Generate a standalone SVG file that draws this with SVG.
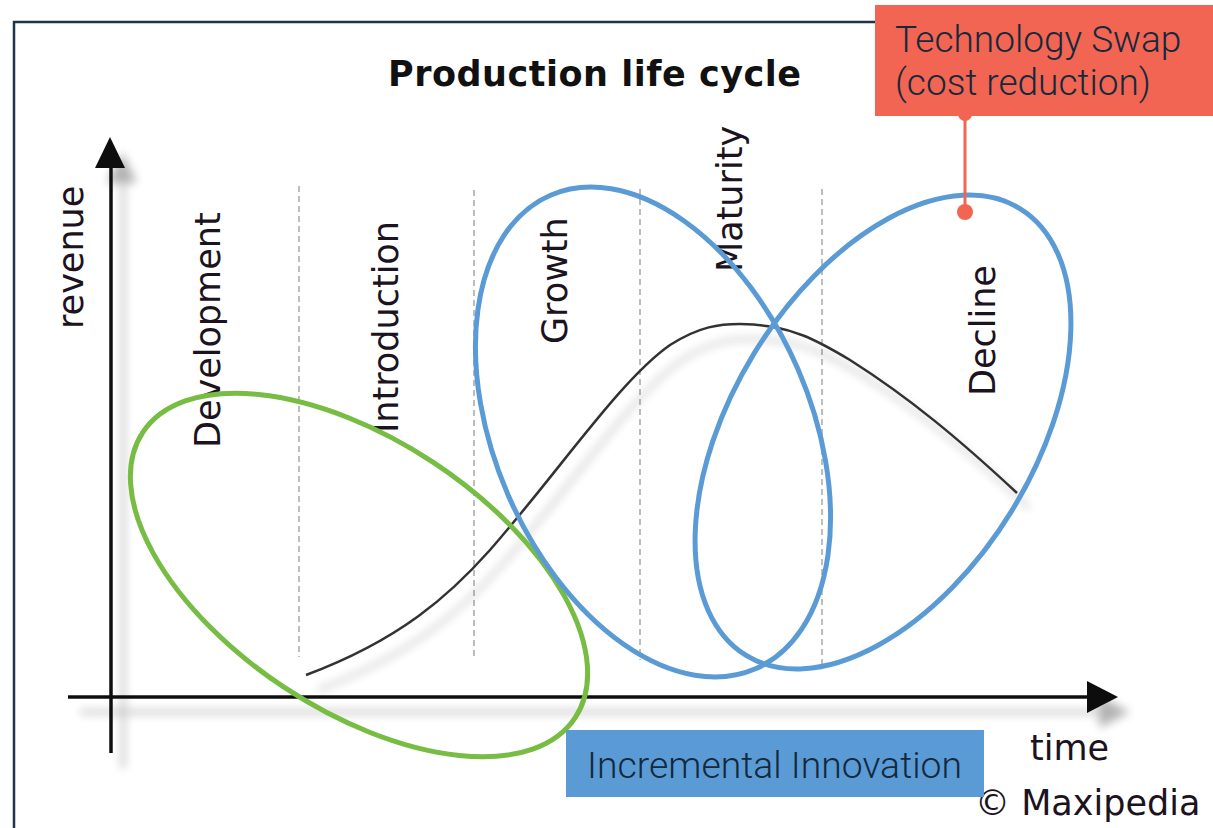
<svg xmlns="http://www.w3.org/2000/svg" width="1213" height="828" viewBox="0 0 1213 828">
<defs>
<style>
.lbl{font-family:"DejaVu Sans",Verdana,sans-serif;font-size:35px;fill:#1c1320}
.title{font-family:"DejaVu Sans",Verdana,sans-serif;font-size:35px;font-weight:bold;fill:#111}
.box{font-family:Roboto,"Liberation Sans",sans-serif;font-weight:300;fill:#13293d}
.dash{stroke:#bdbdbd;stroke-width:2;stroke-dasharray:6 4;fill:none}
.blue{fill:none;stroke:#5b9bd5;stroke-width:5}
.green{fill:none;stroke:#77bc43;stroke-width:5}
.axis{stroke:#111;stroke-width:3.5;fill:none}
</style>
<filter id="shadow" x="-20%" y="-20%" width="140%" height="140%">
<feGaussianBlur in="SourceAlpha" stdDeviation="5"/>
<feOffset dx="12" dy="15" result="b"/>
<feComponentTransfer><feFuncA type="linear" slope="0.3"/></feComponentTransfer>
<feMerge><feMergeNode/><feMergeNode in="SourceGraphic"/></feMerge>
</filter>
</defs>
<rect width="1213" height="828" fill="#fff"/>
<g id="frame">
<path d="M14,828 V22 H876" fill="none" stroke="#1e3447" stroke-width="2.5"/>
</g>
<g id="title"><text class="title" x="388" y="86" textLength="413" lengthAdjust="spacing">Production life cycle</text></g>
<g id="phases">
<line class="dash" x1="299" y1="186" x2="299" y2="657"/>
<line class="dash" x1="474" y1="190" x2="474" y2="660"/>
<line class="dash" x1="640" y1="189" x2="640" y2="660"/>
<line class="dash" x1="822" y1="189" x2="822" y2="665"/>
</g>
<g id="axes" filter="url(#shadow)">
<line class="axis" x1="111" y1="160" x2="111" y2="753"/>
<polygon points="110,137 95,168 125,168" fill="#111"/>
<line class="axis" x1="68" y1="697" x2="1090" y2="697"/>
<polygon points="1118,697 1087,681 1087,713" fill="#111"/>
</g>
<g id="curve" filter="url(#shadow)">
<path d="M306,675 C400,640 450,595 490,550 C560,470 620,380 670,345 C700,326 720,324 740,324 C790,324 820,342 850,360 C910,398 960,440 1017,493" fill="none" stroke="#333" stroke-width="2.5"/>
</g>
<g id="labels">
<text class="lbl" transform="translate(83,329) rotate(-90)">revenue</text>
<text class="lbl" transform="translate(220,448) rotate(-90)">Development</text>
<text class="lbl" transform="translate(398,433) rotate(-90)">Introduction</text>
<text class="lbl" transform="translate(567,344) rotate(-90)">Growth</text>
<text class="lbl" transform="translate(742,272) rotate(-90)">Maturity</text>
<text class="lbl" transform="translate(995,396) rotate(-90)">Decline</text>
<text class="lbl" x="1030" y="760" font-size="33">time</text>
<text class="lbl" x="975" y="815" font-size="33">© Maxipedia</text>
</g>
<g id="incremental-ellipse"><ellipse class="green" cx="359" cy="575" rx="259" ry="135" transform="rotate(33.4 359 575)"/></g>
<g id="growth-ellipse"><ellipse class="blue" cx="653" cy="432" rx="158" ry="258" transform="rotate(-23.4 653 432)"/></g>
<g id="decline-ellipse"><ellipse class="blue" cx="883" cy="432" rx="151" ry="262" transform="rotate(31.5 883 432)"/></g>
<g id="connectors">
<line x1="965" y1="114" x2="965" y2="212" stroke="#f26552" stroke-width="3"/>
<circle cx="965" cy="114" r="7" fill="#f26552"/>
<circle cx="965" cy="212" r="8" fill="#f26552"/>
</g>
<g id="tech-swap">
<rect x="875" y="5" width="338" height="111" fill="#f26552"/>
<text class="box" x="895" y="52" font-size="37">Technology Swap</text>
<text class="box" x="895" y="95" font-size="37">(cost reduction)</text>
</g>
<g id="incremental">
<rect x="566" y="730" width="418" height="67" fill="#5b9bd5"/>
<text class="box" x="587" y="778" font-size="37" textLength="375" lengthAdjust="spacingAndGlyphs">Incremental Innovation</text>
</g>
</svg>
